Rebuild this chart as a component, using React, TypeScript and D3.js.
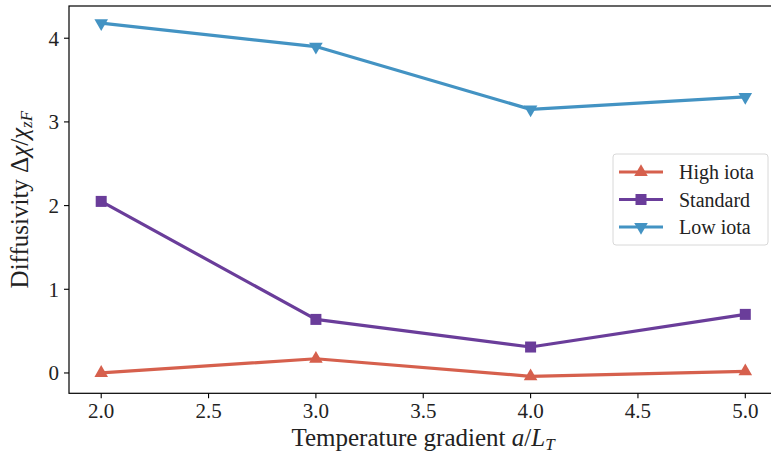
import * as d3 from 'd3'

const gradients = [2.0, 3.0, 4.0, 5.0]
const highIota = [0.0, 0.17, -0.04, 0.02]
const standard = [2.05, 0.64, 0.31, 0.70]
const lowIota = [4.18, 3.90, 3.15, 3.30]
const xTicks = [2.0, 2.5, 3.0, 3.5, 4.0, 4.5, 5.0]
const yTicks = [0, 1, 2, 3, 4]

const series = [
  { name: 'High iota', values: highIota, color: '#d6604d', marker: 'up' },
  { name: 'Standard', values: standard, color: '#6a3d9a', marker: 'square' },
  { name: 'Low iota', values: lowIota, color: '#4393c3', marker: 'down' },
]

const W = 771
const H = 457
const m = { left: 69, top: 6, right: 777.5, bottom: 393.3 }
const font = '"Liberation Serif", "DejaVu Serif", serif'

function Marker({ type, x, y, color }: { type: string; x: number; y: number; color: string }) {
  if (type === 'square') {
    return <rect x={x - 5.5} y={y - 5.5} width={11} height={11} fill={color} />
  }
  const sym = d3.symbol().type(d3.symbolTriangle).size(80)()
  const rot = type === 'down' ? 180 : 0
  return <path d={sym as string} fill={color} transform={`translate(${x},${y}) rotate(${rot})`} />
}

export default function App() {
  const x = d3.scaleLinear().domain([1.85, 5.15]).range([m.left, m.right])
  const y = d3.scaleLinear().domain([-0.243, 4.385]).range([m.bottom, m.top])
  const line = d3.line<number>()
    .x((_, i) => x(gradients[i]))
    .y(d => y(d))

  return (
    <svg width={W} height={H} style={{ position: 'absolute', left: 0, top: 0 }} fontFamily={font}>
      <rect x={0} y={0} width={W} height={H} fill="#fff" />
      {series.map(s => (
        <g key={s.name}>
          <path d={line(s.values) as string} fill="none" stroke={s.color} strokeWidth={3.2} strokeLinejoin="round" />
          {s.values.map((v, i) => (
            <Marker key={i} type={s.marker} x={x(gradients[i])} y={y(v)} color={s.color} />
          ))}
        </g>
      ))}
      <rect x={m.left} y={m.top} width={m.right - m.left} height={m.bottom - m.top} fill="none" stroke="#000" strokeWidth={1.2} />
      {xTicks.map(t => (
        <g key={t} transform={`translate(${x(t)},${m.bottom})`}>
          <line y2={5} stroke="#000" strokeWidth={1.1} />
          <text y={25} textAnchor="middle" fontSize={21} fill="#222">{t.toFixed(1)}</text>
        </g>
      ))}
      {yTicks.map(t => (
        <g key={t} transform={`translate(${m.left},${y(t)})`}>
          <line x2={-5} stroke="#000" strokeWidth={1.1} />
          <text x={-10} dy="0.35em" textAnchor="end" fontSize={21} fill="#222">{t}</text>
        </g>
      ))}
      <text x={423} y={446} textAnchor="middle" fontSize={25} fill="#222">
        Temperature gradient <tspan fontStyle="italic">a</tspan>/<tspan fontStyle="italic">L</tspan>
        <tspan fontStyle="italic" fontSize={17} dy={4}>T</tspan>
      </text>
      <text transform={`translate(28,${(m.top + m.bottom) / 2}) rotate(-90)`} textAnchor="middle" fontSize={25} fill="#222">
        Diffusivity Δ<tspan fontStyle="italic">χ</tspan>/<tspan fontStyle="italic">χ</tspan>
        <tspan fontStyle="italic" fontSize={17} dy={4}>zF</tspan>
      </text>
      <g>
        <rect x={613} y={154} width={155} height={91} rx={3} fill="#fff" fillOpacity={0.8} stroke="#d8d8d8" strokeWidth={1} />
        {series.map((s, i) => {
          const ly = 172 + i * 27.5
          return (
            <g key={s.name}>
              <line x1={619} x2={663} y1={ly} y2={ly} stroke={s.color} strokeWidth={3.2} />
              <Marker type={s.marker} x={641} y={ly} color={s.color} />
              <text x={679} y={ly} dy="0.35em" fontSize={20} fill="#222">{s.name}</text>
            </g>
          )
        })}
      </g>
    </svg>
  )
}
